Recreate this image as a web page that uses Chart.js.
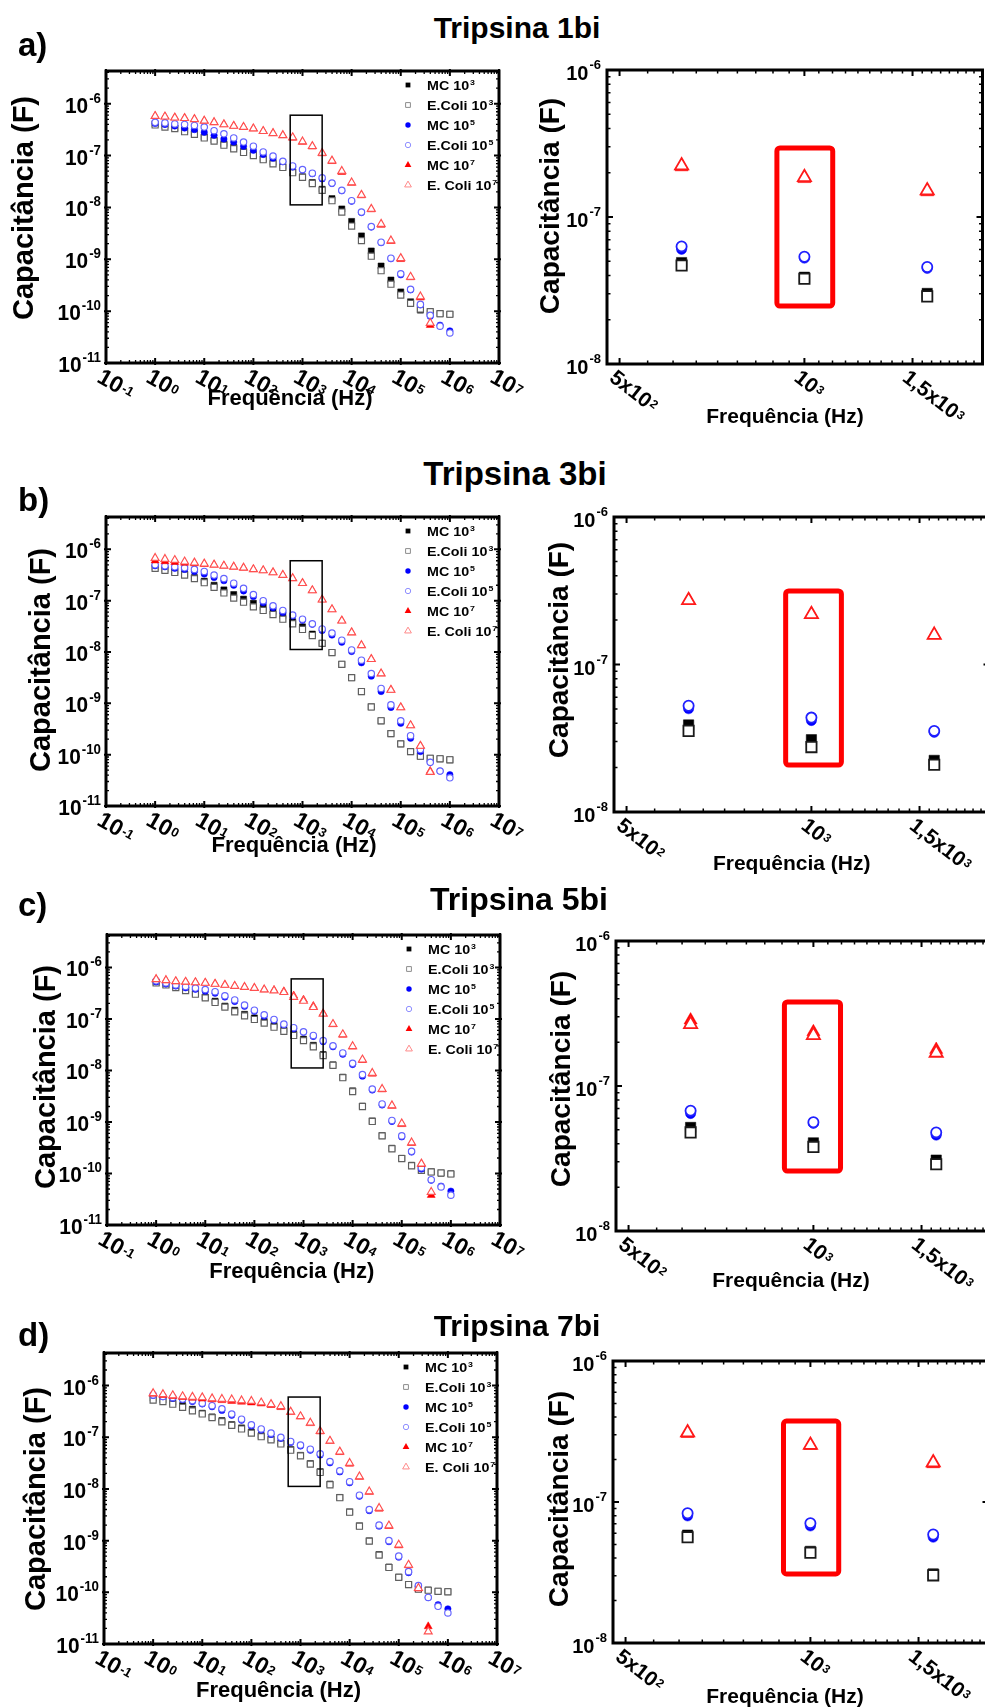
<!DOCTYPE html>
<html><head><meta charset="utf-8">
<script src="https://cdn.jsdelivr.net/npm/chart.js@4.4.1/dist/chart.umd.min.js"></script>
<style>
html,body{margin:0;padding:0;background:#fff;}
body{position:relative;width:985px;height:1708px;overflow:hidden;}
canvas{position:absolute;}
.t{position:absolute;font-family:'Liberation Sans',Arial,Helvetica,sans-serif;font-weight:bold;line-height:1;white-space:nowrap;color:#000;}
</style></head><body>
<script>
// ---------- DATA ----------
const FREQ_LOG10 = [0,0.2,0.4,0.6,0.8,1,1.2,1.4,1.6,1.8,2,2.2,2.4,2.6,2.8,3,3.2,3.4,3.6,3.8,4,4.2,4.4,4.6,4.8,5,5.2,5.4,5.6,5.8,6];
const SERIES_NAMES = ['MC 10','E.Coli 10','MC 10','E.Coli 10','MC 10','E. Coli 10'];
const SERIES_SUP = ['3','3','5','5','7','7'];
const PANEL_TITLES = ['Tripsina 1bi','Tripsina 3bi','Tripsina 5bi','Tripsina 7bi'];
const PANEL_LETTERS = ['a)','b)','c)','d)'];
const LEFT_X_TICK_EXP = [-1,0,1,2,3,4,5,6,7];
const LEFT_Y_TICK_EXP = [-11,-10,-9,-8,-7,-6];
const RIGHT_X_TICKS = [500,1000,1500];
const RIGHT_X_TICK_BASE = ['5x10','10','1,5x10'];
const RIGHT_X_TICK_SUP = ['2','3','3'];
const RIGHT_Y_TICK_EXP = [-8,-7,-6];
const X_TITLE = 'Frequência (Hz)';
const Y_TITLE = 'Capacitância (F)';

// log10 of capacitance (F), one value per frequency in FREQ_LOG10
const a_MC3 = [-6.39,-6.42,-6.47,-6.51,-6.57,-6.64,-6.70,-6.77,-6.84,-6.92,-6.98,-7.06,-7.13,-7.21,-7.31,-7.41,-7.52,-7.65,-7.83,-8.03,-8.27,-8.55,-8.84,-9.13,-9.40,-9.63,-9.82,-9.98,-10.03,-10.05,-10.06];
const a_EC3 = [-6.41,-6.45,-6.48,-6.54,-6.59,-6.66,-6.72,-6.80,-6.87,-6.94,-7.00,-7.08,-7.16,-7.23,-7.33,-7.42,-7.54,-7.67,-7.87,-8.09,-8.36,-8.64,-8.94,-9.22,-9.48,-9.69,-9.85,-9.96,-10.01,-10.05,-10.06];
const a_MC5 = [-6.38,-6.40,-6.43,-6.47,-6.50,-6.55,-6.61,-6.68,-6.74,-6.82,-6.90,-6.98,-7.05,-7.12,-7.22,-7.28,-7.35,-7.45,-7.54,-7.68,-7.88,-8.10,-8.38,-8.68,-8.99,-9.30,-9.59,-9.88,-10.10,-10.27,-10.38];
const a_EC5 = [-6.36,-6.37,-6.39,-6.40,-6.42,-6.45,-6.52,-6.58,-6.66,-6.74,-6.82,-6.93,-7.01,-7.11,-7.20,-7.27,-7.34,-7.43,-7.53,-7.67,-7.87,-8.09,-8.37,-8.67,-8.98,-9.28,-9.58,-9.87,-10.08,-10.29,-10.42];
const a_MC7 = [-6.24,-6.25,-6.27,-6.28,-6.30,-6.33,-6.36,-6.40,-6.43,-6.45,-6.48,-6.53,-6.57,-6.61,-6.66,-6.74,-6.83,-6.96,-7.11,-7.32,-7.53,-7.77,-8.04,-8.34,-8.65,-9.00,-9.35,-9.74,-10.27,null,null];
const a_EC7 = [-6.24,-6.25,-6.27,-6.28,-6.30,-6.33,-6.36,-6.40,-6.43,-6.45,-6.48,-6.53,-6.57,-6.61,-6.65,-6.73,-6.82,-6.95,-7.10,-7.30,-7.52,-7.76,-8.03,-8.32,-8.64,-8.98,-9.34,-9.72,-10.23,null,null];

const b_MC3 = [-6.35,-6.39,-6.43,-6.48,-6.55,-6.62,-6.70,-6.79,-6.88,-6.97,-7.05,-7.13,-7.21,-7.29,-7.41,-7.51,-7.65,-7.83,-8.01,-8.24,-8.50,-8.77,-9.07,-9.34,-9.59,-9.79,-9.94,-10.03,-10.07,-10.08,-10.10];
const b_EC3 = [-6.37,-6.41,-6.45,-6.50,-6.57,-6.65,-6.74,-6.85,-6.95,-7.03,-7.12,-7.19,-7.27,-7.36,-7.45,-7.56,-7.68,-7.83,-8.01,-8.24,-8.50,-8.77,-9.07,-9.34,-9.59,-9.79,-9.94,-10.03,-10.07,-10.08,-10.10];
const b_MC5 = [-6.32,-6.34,-6.37,-6.39,-6.43,-6.48,-6.55,-6.61,-6.70,-6.81,-6.92,-7.04,-7.14,-7.23,-7.30,-7.38,-7.46,-7.58,-7.67,-7.81,-7.99,-8.21,-8.47,-8.77,-9.08,-9.39,-9.68,-9.94,-10.15,-10.32,-10.39];
const b_EC5 = [-6.30,-6.32,-6.34,-6.36,-6.39,-6.43,-6.50,-6.57,-6.66,-6.76,-6.88,-7.00,-7.10,-7.19,-7.28,-7.36,-7.45,-7.55,-7.63,-7.77,-7.96,-8.16,-8.42,-8.71,-9.03,-9.34,-9.63,-9.90,-10.15,-10.32,-10.45];
const b_MC7 = [-6.22,-6.235,-6.25,-6.265,-6.275,-6.29,-6.30,-6.32,-6.34,-6.36,-6.39,-6.41,-6.45,-6.50,-6.565,-6.66,-6.80,-6.98,-7.17,-7.39,-7.62,-7.87,-8.14,-8.42,-8.74,-9.08,-9.43,-9.83,-10.32,null,null];
const b_EC7 = [-6.17,-6.19,-6.21,-6.24,-6.26,-6.28,-6.30,-6.32,-6.34,-6.36,-6.39,-6.41,-6.45,-6.50,-6.565,-6.66,-6.80,-6.98,-7.17,-7.39,-7.62,-7.87,-8.14,-8.42,-8.74,-9.08,-9.43,-9.83,-10.34,null,null];

const c_MC3 = [-6.29,-6.33,-6.375,-6.44,-6.50,-6.575,-6.655,-6.75,-6.83,-6.91,-6.98,-7.05,-7.125,-7.205,-7.286,-7.392,-7.511,-7.69,-7.89,-8.13,-8.395,-8.69,-8.98,-9.265,-9.51,-9.705,-9.84,-9.93,-9.968,-9.994,-10.006];
const c_EC3 = [-6.30,-6.34,-6.39,-6.45,-6.52,-6.59,-6.68,-6.77,-6.86,-6.94,-7.01,-7.08,-7.16,-7.24,-7.32,-7.42,-7.54,-7.71,-7.90,-8.14,-8.41,-8.70,-8.99,-9.27,-9.52,-9.71,-9.85,-9.94,-9.97,-9.99,-10.01];
const c_MC5 = [-6.28,-6.32,-6.36,-6.395,-6.425,-6.46,-6.50,-6.575,-6.66,-6.755,-6.85,-6.945,-7.025,-7.115,-7.19,-7.258,-7.339,-7.44,-7.54,-7.685,-7.885,-8.11,-8.38,-8.67,-8.99,-9.29,-9.585,-9.915,-10.13,-10.245,-10.342];
const c_EC5 = [-6.26,-6.30,-6.34,-6.37,-6.40,-6.43,-6.47,-6.55,-6.63,-6.73,-6.83,-6.92,-7.01,-7.10,-7.17,-7.25,-7.32,-7.42,-7.52,-7.66,-7.86,-8.08,-8.36,-8.65,-8.97,-9.27,-9.57,-9.89,-10.12,-10.26,-10.42];
const c_MC7 = [-6.23,-6.25,-6.27,-6.28,-6.29,-6.30,-6.32,-6.34,-6.36,-6.38,-6.40,-6.43,-6.44,-6.465,-6.546,-6.627,-6.749,-6.89,-7.105,-7.31,-7.54,-7.80,-8.065,-8.37,-8.69,-9.045,-9.41,-9.82,-10.42,null,null];
const c_EC7 = [-6.23,-6.25,-6.27,-6.28,-6.29,-6.30,-6.32,-6.34,-6.36,-6.38,-6.40,-6.43,-6.45,-6.48,-6.574,-6.65,-6.772,-6.90,-7.10,-7.30,-7.53,-7.79,-8.05,-8.36,-8.68,-9.03,-9.40,-9.81,-10.36,null,null];

const d_MC3 = [-6.245,-6.277,-6.323,-6.387,-6.458,-6.535,-6.606,-6.677,-6.755,-6.819,-6.897,-6.968,-7.032,-7.11,-7.235,-7.35,-7.51,-7.665,-7.905,-8.165,-8.445,-8.715,-9.005,-9.27,-9.51,-9.705,-9.85,-9.935,-9.955,-9.98,-9.987];
const d_EC3 = [-6.28,-6.31,-6.36,-6.42,-6.49,-6.55,-6.62,-6.70,-6.77,-6.84,-6.92,-6.99,-7.05,-7.13,-7.25,-7.36,-7.52,-7.68,-7.92,-8.17,-8.45,-8.72,-9.01,-9.28,-9.52,-9.71,-9.85,-9.94,-9.96,-9.98,-9.99];
const d_MC5 = [-6.19,-6.215,-6.245,-6.27,-6.31,-6.355,-6.41,-6.48,-6.575,-6.67,-6.78,-6.86,-6.945,-7.02,-7.099,-7.17,-7.25,-7.345,-7.495,-7.67,-7.88,-8.14,-8.42,-8.72,-9.02,-9.32,-9.62,-9.88,-10.10,-10.24,-10.32];
const d_EC5 = [-6.18,-6.21,-6.23,-6.26,-6.29,-6.34,-6.39,-6.45,-6.55,-6.65,-6.76,-6.84,-6.92,-7.00,-7.08,-7.15,-7.23,-7.32,-7.47,-7.65,-7.86,-8.12,-8.40,-8.70,-9.00,-9.30,-9.60,-9.87,-10.10,-10.27,-10.40];
const d_MC7 = [-6.16,-6.185,-6.205,-6.225,-6.24,-6.255,-6.27,-6.285,-6.30,-6.315,-6.33,-6.35,-6.38,-6.42,-6.515,-6.60,-6.73,-6.89,-7.075,-7.29,-7.515,-7.77,-8.06,-8.385,-8.72,-9.095,-9.48,-9.93,-10.66,null,null];
const d_EC7 = [-6.15,-6.17,-6.19,-6.21,-6.22,-6.23,-6.25,-6.26,-6.27,-6.29,-6.30,-6.33,-6.36,-6.40,-6.508,-6.596,-6.721,-6.88,-7.07,-7.28,-7.50,-7.76,-8.05,-8.37,-8.71,-9.08,-9.47,-9.92,-10.76,null,null];

const ROW_DATA = [
  [a_MC3,a_EC3,a_MC5,a_EC5,a_MC7,a_EC7],
  [b_MC3,b_EC3,b_MC5,b_EC5,b_MC7,b_EC7],
  [c_MC3,c_EC3,c_MC5,c_EC5,c_MC7,c_EC7],
  [d_MC3,d_EC3,d_MC5,d_EC5,d_MC7,d_EC7]
];

// zoom window (black) drawn on the overview, in data units
const ZOOM_BOX = {x1: 562, x2: 2512, y1: 6.0e-7, y2: 1.12e-8};
// highlight (red) box around 10^3 Hz on each detail chart, in data units
const RED_BOXES = [
  {x1: 902, x2: 1112, y1: 2.95e-7, y2: 2.48e-8},
  {x1: 908, x2: 1119, y1: 3.15e-7, y2: 2.08e-8},
  {x1: 897, x2: 1107, y1: 3.8e-7, y2: 2.59e-8},
  {x1: 904, x2: 1112, y1: 3.75e-7, y2: 3.09e-8}
];

// ---------- LAYOUT / STYLE ----------
const LEFT_RANGE = {xmin: 0.1, xmax: 1e7, ymin: 1e-11, ymax: 4.27e-6};
const RIGHT_RANGE = {xmin: 477, xmax: 1950, ymin: 1e-8, ymax: 1e-6};
const RIGHT_W = 375.5;
const LAYOUT = [
  {title:{cx:517,base:38.5,size:30}, letter:{x:18,base:55.5,size:33},
   L:{L:106,T:71,R:499,B:363,xt:[290,405],yt:[33,208]},
   R:{L:607,T:70,B:364,xt:[785,422.7],yt:[559,206]}},
  {title:{cx:515,base:485,size:33}, letter:{x:18,base:511,size:33},
   L:{L:106,T:517,R:499,B:806,xt:[294,851.7],yt:[50,660]},
   R:{L:614,T:517,B:812,xt:[791.7,870],yt:[568,650]}},
  {title:{cx:519,base:909.6,size:32}, letter:{x:18,base:916,size:33},
   L:{L:107,T:935,R:500,B:1225,xt:[291.7,1278],yt:[55,1077]},
   R:{L:616,T:941,B:1231,xt:[791,1286.7],yt:[570,1079]}},
  {title:{cx:517,base:1336.5,size:30}, letter:{x:18,base:1346,size:33},
   L:{L:104,T:1353,R:497,B:1644,xt:[278.5,1696.7],yt:[45,1499]},
   R:{L:613,T:1361,B:1643,xt:[785,1703],yt:[568,1499]}}
];
const STYLE = [
  {shape:'rect', color:'#000000', openL:null, openR:null, rL:4.3, rR:7.3, leg:3.4, legOpen:null},
  {shape:'rect', color:'#000000', openL:'#606060', openR:'#1a1a1a', rL:4.3, rR:7.3, leg:3.4, legOpen:'#8c8c8c'},
  {shape:'circle', color:'#0000ff', openL:null, openR:null, rL:3.2, rR:5.1, leg:2.7, legOpen:null},
  {shape:'circle', color:'#0000ff', openL:'#6464ff', openR:'#2020ff', rL:3.2, rR:5.1, leg:2.7, legOpen:'#8f8fff'},
  {shape:'triangle', color:'#ff0000', openL:null, openR:null, rL:4.6, rR:7.6, leg:3.9, legOpen:null},
  {shape:'triangle', color:'#ff0000', openL:'#ff5050', openR:'#ff1a1a', rL:4.6, rR:7.6, leg:3.9, legOpen:'#ff8a8a'}
];
const FONT = "'Liberation Sans', Arial, Helvetica, sans-serif";
function font(sz){ return 'bold ' + sz + 'px ' + FONT; }

function drawText(ctx, s, x, y, sz, align, sx) {
  ctx.save();
  ctx.translate(x, y);
  ctx.scale(sx || 1, 1);
  ctx.font = font(sz);
  ctx.fillStyle = '#000';
  ctx.textAlign = align || 'left';
  ctx.textBaseline = 'alphabetic';
  ctx.fillText(s, 0, 0);
  ctx.restore();
}
function textW(ctx, s, sz, sx) {
  ctx.save(); ctx.font = font(sz);
  const w = ctx.measureText(s).width * (sx || 1);
  ctx.restore(); return w;
}
function powW(ctx, base, sup, bs, ss, sx, gap) {
  return textW(ctx, base, bs, sx) + gap + textW(ctx, sup, ss, sx);
}
function drawPow(ctx, base, sup, bs, ss, rise, sx, gap) {
  drawText(ctx, base, 0, 0, bs, 'left', sx);
  const wb = textW(ctx, base, bs, sx);
  drawText(ctx, sup, wb + gap, -rise, ss, 'left', sx);
}
function marker(ctx, shape, x, y, r, fill, stroke, lw) {
  ctx.beginPath();
  if (shape === 'rect') { const s = r * Math.SQRT1_2; ctx.rect(x - s, y - s, 2 * s, 2 * s); }
  else if (shape === 'circle') ctx.arc(x, y, r, 0, Math.PI * 2);
  else { ctx.moveTo(x, y - r); ctx.lineTo(x + r * 0.866, y + r / 2); ctx.lineTo(x - r * 0.866, y + r / 2); ctx.closePath(); }
  if (fill) { ctx.fillStyle = fill; ctx.fill(); }
  if (stroke) { ctx.lineWidth = lw; ctx.strokeStyle = stroke; ctx.stroke(); }
}
function logMinors(e0, e1, vmin, vmax) {
  const out = [];
  for (let e = e0; e <= e1; e++) for (let m = 2; m <= 9; m++) {
    const v = m * Math.pow(10, e); if (v >= vmin && v <= vmax) out.push(v);
  }
  return out;
}
function rightXMinors(vmin, vmax) {
  const out = []; const step = 500 / 9;
  for (let b = 0; b < vmax; b += 500) for (let k = 1; k <= 8; k++) {
    const v = b + k * step; if (v >= vmin && v <= vmax) out.push(v);
  }
  return out;
}

function drawTicks(ctx, chart, xMaj, xMin, yMaj, yMin, t) {
  const a = chart.chartArea, X = chart.scales.x, Y = chart.scales.y;
  ctx.save();
  ctx.strokeStyle = '#000';
  const pass = (vals, isX, len, out, lw) => {
    ctx.lineWidth = lw; ctx.beginPath();
    vals.forEach(v => {
      if (isX) {
        const p = X.getPixelForValue(v);
        if (p < a.left - 0.5 || p > a.right + 0.5) return;
        ctx.moveTo(p, a.bottom + out); ctx.lineTo(p, a.bottom - len);
        ctx.moveTo(p, a.top - out); ctx.lineTo(p, a.top + len);
      } else {
        const p = Y.getPixelForValue(v);
        if (p < a.top - 0.5 || p > a.bottom + 0.5) return;
        ctx.moveTo(a.left - out, p); ctx.lineTo(a.left + len, p);
        ctx.moveTo(a.right + out, p); ctx.lineTo(a.right - len, p);
      }
    });
    ctx.stroke();
  };
  pass(xMin, true, t.min, 0, t.minW); pass(yMin, false, t.min, 0, t.minW);
  pass(xMaj, true, t.maj, t.out, t.majW); pass(yMaj, false, t.maj, t.out, t.majW);
  ctx.restore();
}

function makePlugin(cfg) {
  return {
    id: 'panelDecor',
    afterDatasetsDraw(chart) {
      const ctx = chart.ctx, X = chart.scales.x, Y = chart.scales.y;
      const b = cfg.box;
      const x1 = X.getPixelForValue(b.x1), x2 = X.getPixelForValue(b.x2);
      const y1 = Y.getPixelForValue(b.y1), y2 = Y.getPixelForValue(b.y2);
      ctx.save();
      if (cfg.side === 'L') {
        ctx.lineWidth = 1.5; ctx.strokeStyle = '#000';
        ctx.strokeRect(x1, y1, x2 - x1, y2 - y1);
      } else {
        ctx.lineWidth = 5; ctx.strokeStyle = '#ff0000'; ctx.lineJoin = 'round';
        ctx.beginPath();
        if (ctx.roundRect) ctx.roundRect(x1, y1, x2 - x1, y2 - y1, 3); else ctx.rect(x1, y1, x2 - x1, y2 - y1);
        ctx.stroke();
      }
      ctx.restore();
    },
    afterDraw(chart) {
      const ctx = chart.ctx, a = chart.chartArea, X = chart.scales.x, Y = chart.scales.y;
      const ox = cfg.ox, oy = cfg.oy, g = cfg.geo;
      // frame
      ctx.save(); ctx.lineWidth = 3; ctx.strokeStyle = '#000';
      ctx.strokeRect(a.left, a.top, a.right - a.left, a.bottom - a.top); ctx.restore();
      if (cfg.side === 'L') {
        drawTicks(ctx, chart,
          LEFT_X_TICK_EXP.map(e => Math.pow(10, e)), logMinors(-1, 6, LEFT_RANGE.xmin, LEFT_RANGE.xmax),
          LEFT_Y_TICK_EXP.map(e => Math.pow(10, e)), logMinors(-11, -6, LEFT_RANGE.ymin, LEFT_RANGE.ymax),
          {maj: 5, min: 3, out: 2, majW: 2, minW: 1.3});
        // y tick labels
        LEFT_Y_TICK_EXP.forEach(e => {
          const p = Y.getPixelForValue(Math.pow(10, e));
          const w = powW(ctx, '10', String(e), 22, 14, 0.95, 1);
          ctx.save(); ctx.translate(a.left - 5 - w, p + 9);
          drawPow(ctx, '10', String(e), 22, 14, 10, 0.95, 1); ctx.restore();
        });
        // x tick labels (rotated clockwise)
        LEFT_X_TICK_EXP.forEach(e => {
          const p = X.getPixelForValue(Math.pow(10, e));
          ctx.save(); ctx.translate(p - 2, a.bottom + 4); ctx.rotate(30 * Math.PI / 180);
          ctx.translate(0, 0.72 * 23);
          drawPow(ctx, '10', String(e), 23, 13, 4, 1, 1); ctx.restore();
        });
        // legend
        for (let k = 0; k < 6; k++) {
          const st = STYLE[k], filled = k % 2 === 0;
          const y = a.top + 14 + 20 * k, mx = a.left + 302;
          if (filled) marker(ctx, st.shape, mx, y, st.leg, st.color, null, 0);
          else marker(ctx, st.shape, mx, y, st.leg, '#fff', st.legOpen, 1);
          ctx.save(); ctx.translate(a.left + 321, y + 4.6);
          drawPow(ctx, SERIES_NAMES[k], SERIES_SUP[k], 13, 8, 4.6, 1.1, 1); ctx.restore();
        }
      } else {
        drawTicks(ctx, chart,
          RIGHT_X_TICKS, rightXMinors(RIGHT_RANGE.xmin, RIGHT_RANGE.xmax),
          RIGHT_Y_TICK_EXP.map(e => Math.pow(10, e)), logMinors(-8, -7, RIGHT_RANGE.ymin, RIGHT_RANGE.ymax),
          {maj: 6, min: 3.5, out: 0, majW: 2, minW: 1.5});
        RIGHT_Y_TICK_EXP.forEach(e => {
          const p = Y.getPixelForValue(Math.pow(10, e));
          const w = powW(ctx, '10', String(e), 20, 13, 1, 1);
          ctx.save(); ctx.translate(a.left - 6 - w, p + 10);
          drawPow(ctx, '10', String(e), 20, 13, 11, 1, 1); ctx.restore();
        });
        RIGHT_X_TICKS.forEach((v, i) => {
          const p = X.getPixelForValue(v);
          ctx.save(); ctx.translate(p - 2, a.bottom + 4); ctx.rotate(38 * Math.PI / 180);
          ctx.translate(0, 0.72 * 21);
          drawPow(ctx, RIGHT_X_TICK_BASE[i], RIGHT_X_TICK_SUP[i], 21, 12, 5, 1, 1); ctx.restore();
        });
      }
      // axis titles
      const xs = cfg.side === 'L' ? 22 : 21, ysz = cfg.side === 'L' ? 29 : 28;
      drawText(ctx, X_TITLE, g.xt[0] - ox, g.xt[1] - oy, xs, 'center', 1);
      ctx.save(); ctx.translate(g.yt[0] - ox, g.yt[1] - oy); ctx.rotate(-Math.PI / 2);
      drawText(ctx, Y_TITLE, 0, 0, ysz, 'center', 1); ctx.restore();
    }
  };
}

function makeDatasets(rowData, side) {
  return rowData.map((arr, k) => {
    const st = STYLE[k], filled = k % 2 === 0;
    const ds = {
      data: FREQ_LOG10.map((f, i) => ({x: Math.pow(10, f), y: arr[i] === null ? null : Math.pow(10, arr[i])})),
      showLine: false,
      pointStyle: st.shape,
      pointRadius: side === 'L' ? st.rL : st.rR,
      pointHoverRadius: side === 'L' ? st.rL : st.rR,
      pointBorderWidth: filled ? 0.5 : (side === 'L' ? 1.15 : 1.8),
      pointBackgroundColor: filled ? st.color : '#ffffff',
      pointBorderColor: filled ? st.color : (side === 'L' ? st.openL : st.openR),
      order: 5 - k
    };
    if (side === 'R') ds.clip = 0;
    return ds;
  });
}

function addChart(side, row) {
  const lay = LAYOUT[row];
  const g = lay[side];
  const L = g.L, T = g.T, B = g.B;
  const R = side === 'L' ? g.R : g.L + RIGHT_W;
  const ox = side === 'L' ? 0 : 520;
  const oy = T - (side === 'L' ? 20 : 25);
  const w = Math.ceil(R - ox + (side === 'L' ? 35 : 15));
  const h = Math.ceil(B - oy + 72);
  const cv = document.createElement('canvas');
  cv.width = w; cv.height = h;
  cv.style.left = ox + 'px'; cv.style.top = oy + 'px';
  cv.style.width = w + 'px'; cv.style.height = h + 'px';
  document.body.appendChild(cv);
  const rg = side === 'L' ? LEFT_RANGE : RIGHT_RANGE;
  new Chart(cv, {
    type: 'scatter',
    data: {datasets: makeDatasets(ROW_DATA[row], side)},
    options: {
      responsive: false, animation: false, devicePixelRatio: 1, events: [],
      layout: {padding: {left: L - ox, top: T - oy, right: w - (R - ox), bottom: h - (B - oy)}},
      plugins: {legend: {display: false}, tooltip: {enabled: false}, title: {display: false}},
      scales: {
        x: {type: 'logarithmic', min: rg.xmin, max: rg.xmax, display: false, bounds: 'data'},
        y: {type: 'logarithmic', min: rg.ymin, max: rg.ymax, display: false, bounds: 'data'}
      }
    },
    plugins: [makePlugin({side, ox, oy, geo: g, box: side === 'L' ? ZOOM_BOX : RED_BOXES[row]})]
  });
}

function addText(s, x, base, size, center) {
  const d = document.createElement('div');
  d.className = 't'; d.textContent = s;
  d.style.fontSize = size + 'px';
  d.style.top = (base - 0.8465 * size) + 'px';
  d.style.left = x + 'px';
  if (center) d.style.transform = 'translateX(-50%)';
  document.body.appendChild(d);
}

for (let r = 0; r < 4; r++) {
  addChart('L', r);
  addChart('R', r);
  const lay = LAYOUT[r];
  addText(PANEL_TITLES[r], lay.title.cx, lay.title.base, lay.title.size, true);
  addText(PANEL_LETTERS[r], lay.letter.x, lay.letter.base, lay.letter.size, false);
}
</script>
</body></html>
